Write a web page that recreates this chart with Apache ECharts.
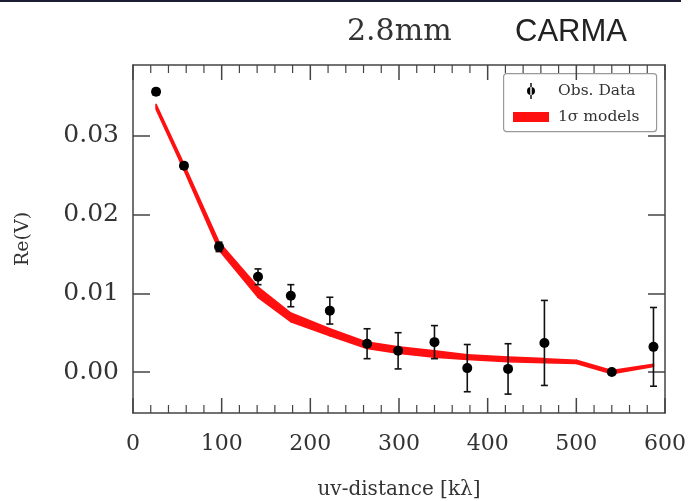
<!DOCTYPE html>
<html>
<head>
<meta charset="utf-8">
<script src="https://cdn.jsdelivr.net/npm/echarts@6/dist/echarts.min.js"></script>
<style>
  html, body { margin: 0; padding: 0; background: #fff; }
  #chart { width: 693px; height: 501px; }
</style>
</head>
<body>
<div id="chart"></div>
<script>
// Observed visibilities: uv-distance (kλ), Re(V), 1σ error
const uvDist = [26, 57.5, 97, 141, 178, 222, 264, 299, 340, 377, 423, 464, 540, 587];
const reV    = [0.0356, 0.0262, 0.0159, 0.0121, 0.0097, 0.0078, 0.0036, 0.0027, 0.0038, 0.0005, 0.0004, 0.0037, 0.0000, 0.0032];
const reErr  = [0.0004, 0.0004, 0.0006, 0.0010, 0.0014, 0.0017, 0.0019, 0.0023, 0.0021, 0.0030, 0.0032, 0.0054, 0.0003, 0.0050];

// 1σ model envelope
const modelUv    = [26, 57, 97, 141, 178, 222, 264, 299, 340, 377, 423, 464, 500, 540, 587];
const modelLow   = [0.0334, 0.0258, 0.0155, 0.0095, 0.0064, 0.0046, 0.0030, 0.0024, 0.0019, 0.0016, 0.0013, 0.0012, 0.0011, -0.0002, 0.0007];
const modelHigh  = [0.0340, 0.0265, 0.0165, 0.0108, 0.0075, 0.0055, 0.0038, 0.0032, 0.0027, 0.0022, 0.0019, 0.0017, 0.0015, 0.0002, 0.0010];

const xTicks = [0, 100, 200, 300, 400, 500, 600];
const xMinorTicks = [20, 40, 60, 80, 120, 140, 160, 180, 220, 240, 260, 280, 320, 340, 360, 380,
                     420, 440, 460, 480, 520, 540, 560, 580];
const yTicks = [0.00, 0.01, 0.02, 0.03];

const X_MIN = 0, X_MAX = 600;
const Y_MIN = -0.0052, Y_MAX = 0.039;

const SERIF = '"DejaVu Serif", serif';
const AXIS_COLOR = '#444';
const MODEL_RED = '#ff1010';
const MAJOR_LEN = 15, MINOR_LEN = 8;

const obsData = uvDist.map((u, i) => [u, reV[i], reErr[i]]);
const bandData = modelUv.map((u, i) => [u, modelLow[i], modelHigh[i]]);

function xAxisCfg(pos) {
  return {
    type: 'value', position: pos, min: X_MIN, max: X_MAX,
    axisLine: { show: true, onZero: false, lineStyle: { color: AXIS_COLOR, width: 1.5 } },
    axisTick: { show: false },
    splitLine: { show: false },
    axisLabel: pos === 'bottom'
      ? { show: true, margin: 20, fontFamily: SERIF, fontSize: 22, color: '#333',
          customValues: xTicks }
      : { show: false },
    name: pos === 'bottom' ? 'uv-distance [kλ]' : '',
    nameLocation: 'middle', nameGap: 67,
    nameTextStyle: { fontFamily: SERIF, fontSize: 20, color: '#333' }
  };
}

function yAxisCfg(pos) {
  return {
    type: 'value', position: pos, min: Y_MIN, max: Y_MAX,
    axisLine: { show: true, onZero: false, lineStyle: { color: AXIS_COLOR, width: 1.5 } },
    axisTick: { show: true, inside: true, length: 17, customValues: yTicks, lineStyle: { color: AXIS_COLOR, width: 1.5 } },
    splitLine: { show: false },
    axisLabel: pos === 'left'
      ? { show: true, customValues: yTicks, margin: 14, fontFamily: SERIF, fontSize: 25, color: '#333',
          formatter: v => v.toFixed(2) }
      : { show: false },
    name: pos === 'left' ? 'Re(V)' : '',
    nameLocation: 'middle', nameGap: 100, nameRotate: 90,
    nameTextStyle: { fontFamily: SERIF, fontSize: 19, color: '#333' }
  };
}

// one group holding every inward x tick on the bottom and top frame edges
function renderXTicks(params, api) {
  const children = [];
  const add = (v, len, width) => {
    const b = api.coord([v, Y_MIN]);
    const t = api.coord([v, Y_MAX]);
    const style = { stroke: AXIS_COLOR, lineWidth: width };
    children.push({ type: 'line', shape: { x1: b[0], y1: b[1], x2: b[0], y2: b[1] - len }, style: style });
    children.push({ type: 'line', shape: { x1: t[0], y1: t[1], x2: t[0], y2: t[1] + len }, style: style });
  };
  xTicks.forEach(v => add(v, MAJOR_LEN, 1.5));
  xMinorTicks.forEach(v => add(v, MINOR_LEN, 1.2));
  return { type: 'group', children: children };
}

const chart = echarts.init(document.getElementById('chart'), null, { renderer: 'canvas' });

chart.setOption({
  animation: false,
  backgroundColor: '#fff',
  grid: { left: 133, right: 28, top: 65, bottom: 88, outerBoundsMode: 'none', containLabel: false },
  xAxis: [xAxisCfg('bottom'), xAxisCfg('top')],
  yAxis: [yAxisCfg('left'), yAxisCfg('right')],
  graphic: [
    { type: 'rect', left: 0, top: 0, shape: { width: 681, height: 2 }, style: { fill: '#1c1c35' } },
    { type: 'text', left: 347, top: 17, style: { text: '2.8mm', font: '30px "DejaVu Serif"', fill: '#333' } },
    { type: 'text', left: 515, top: 17, style: { text: 'CARMA', font: '31px "Liberation Sans"', fill: '#222' } },
    { type: 'rect', left: 503, top: 73, z: 3,
      shape: { width: 153, height: 58, r: 3 },
      style: { fill: '#fff', stroke: '#999', lineWidth: 1.2 } }
  ],
  legend: {
    orient: 'vertical', left: 508, top: 78, z: 5,
    itemWidth: 36, itemHeight: 16, itemGap: 10,
    textStyle: { fontFamily: SERIF, fontSize: 15.5, color: '#333', padding: [0, 0, 0, 4] },
    data: [
      { name: 'Obs. Data', icon: 'path://M3.3,0 L4.7,0 L4.7,16 L3.3,16 Z M0,8 A4,4 0 1,0 8,8 A4,4 0 1,0 0,8 Z' },
      { name: '1σ models', icon: 'path://M0,0 L36,0 L36,10 L0,10 Z' }
    ]
  },
  series: [
    {
      name: 'x-ticks', type: 'custom', z: 3, silent: true, clip: false,
      data: [[300, 0.015]],
      encode: { x: 0, y: 1 },
      renderItem: renderXTicks
    },
    {
      // envelope drawn as one quad per segment between neighbouring model points
      name: '1σ models', type: 'custom', data: bandData, z: 2,
      itemStyle: { color: MODEL_RED },
      encode: { x: 0, y: [1, 2] },
      renderItem: function (params, api) {
        const i = params.dataIndexInside;
        if (i >= params.dataInsideLength - 1) return null;
        const u0 = api.value(0, i), u1 = api.value(0, i + 1);
        const p = [
          api.coord([u0, api.value(1, i)]),
          api.coord([u1, api.value(1, i + 1)]),
          api.coord([u1, api.value(2, i + 1)]),
          api.coord([u0, api.value(2, i)])
        ];
        return {
          type: 'polygon',
          shape: { points: p },
          style: { fill: MODEL_RED, stroke: MODEL_RED, lineWidth: 1.6, lineJoin: 'round' }
        };
      }
    },
    {
      name: 'Obs. Data', type: 'custom', data: obsData, z: 4,
      itemStyle: { color: '#000' },
      encode: { x: 0, y: 1 },
      renderItem: function (params, api) {
        const u = api.value(0), v = api.value(1), e = api.value(2);
        const top = api.coord([u, v + e]);
        const bot = api.coord([u, v - e]);
        const ctr = api.coord([u, v]);
        const cap = 3.5;
        const stroke = { stroke: '#111', lineWidth: 1.6 };
        return {
          type: 'group',
          children: [
            { type: 'line', shape: { x1: top[0], y1: top[1], x2: bot[0], y2: bot[1] }, style: stroke },
            { type: 'line', shape: { x1: top[0] - cap, y1: top[1], x2: top[0] + cap, y2: top[1] }, style: stroke },
            { type: 'line', shape: { x1: bot[0] - cap, y1: bot[1], x2: bot[0] + cap, y2: bot[1] }, style: stroke },
            { type: 'circle', shape: { cx: ctr[0], cy: ctr[1], r: 5 }, style: { fill: '#000' } }
          ]
        };
      }
    }
  ]
});
</script>
</body>
</html>
